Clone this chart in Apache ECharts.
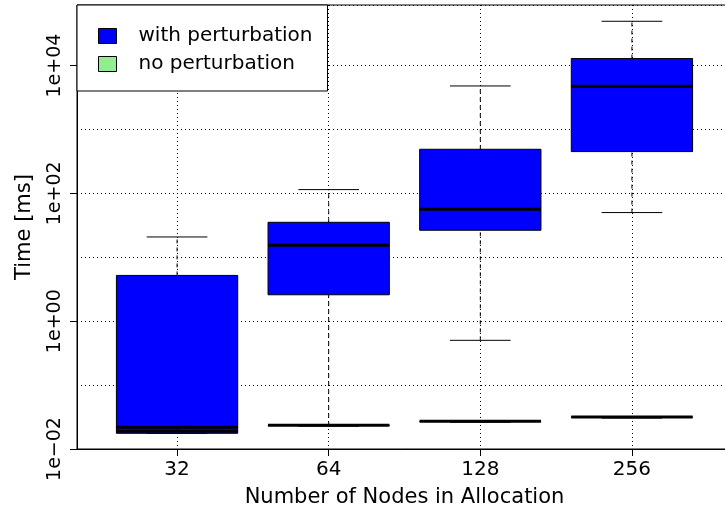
<!DOCTYPE html>
<html><head><meta charset="utf-8">
<script src="https://cdn.jsdelivr.net/npm/echarts@6/dist/echarts.min.js"></script>
<style>html,body{margin:0;padding:0;background:#fff}#chart{width:725px;height:511px}</style>
</head><body><div id="chart"></div>
<script>
const categories = ['32', '64', '128', '256'];
const seriesNames = ['with perturbation', 'no perturbation'];

// "with perturbation" five-number summaries (ms)
const withMin = [0.0176, 0.0232, 0.502, 50.1];
const withQ1  = [0.0176, 2.59, 26.5, 451];
const withMed = [0.0189, 15.4, 56.4, 4745];
const withQ3  = [5.2, 35.3, 490, 12880];
const withMax = [20.8, 114.6, 4797, 49340];

// "no perturbation" five-number summaries (ms)
const noMin = [0.0189, 0.0228, 0.0262, 0.0305];
const noQ1  = [0.0216, 0.0233, 0.0269, 0.0314];
const noMed = [0.0219, 0.0235, 0.0271, 0.0317];
const noQ3  = [0.0221, 0.0237, 0.0273, 0.0319];
const noMax = [0.0224, 0.0240, 0.0276, 0.0322];

const yTickValues = [0.01, 1, 100, 10000];
const yTickLabels = ['1e\u221202', '1e+00', '1e+02', '1e+04'];
const xTickValues = [0, 1, 2, 3];

const FONT = 'DejaVu Sans';
const colors = ['#0000FF', '#90EE90'];

function buildData(mn, q1, md, q3, mx) {
  return categories.map((c, i) => [i, mn[i], q1[i], md[i], q3[i], mx[i]]);
}

function makeRender(fill) {
  return function (params, api) {
    const x = api.value(0);
    const vals = [1, 2, 3, 4, 5].map(d => api.value(d));
    const p = vals.map(v => api.coord([x, v]));
    const cx = p[2][0];
    const half = api.coord([x + 0.4, vals[2]])[0] - cx;
    const st = half / 2;
    const yMin = p[0][1], yQ1 = p[1][1], yMd = p[2][1], yQ3 = p[3][1], yMax = p[4][1];
    return {
      type: 'group',
      children: [
        { type: 'line', shape: { x1: cx, y1: yQ3, x2: cx, y2: yMax }, style: { stroke: '#000', lineWidth: 1, lineDash: [4, 4] } },
        { type: 'line', shape: { x1: cx, y1: yMin, x2: cx, y2: yQ1 }, style: { stroke: '#000', lineWidth: 1, lineDash: [4, 4] } },
        { type: 'line', shape: { x1: cx - st, y1: yMax, x2: cx + st, y2: yMax }, style: { stroke: '#000', lineWidth: 1 } },
        { type: 'line', shape: { x1: cx - st, y1: yMin, x2: cx + st, y2: yMin }, style: { stroke: '#000', lineWidth: 1 } },
        { type: 'rect', shape: { x: cx - half, y: yQ3, width: 2 * half, height: yQ1 - yQ3 }, style: { fill: fill, stroke: '#000', lineWidth: 1 } },
        { type: 'line', shape: { x1: cx - half, y1: yMd, x2: cx + half, y2: yMd }, style: { stroke: '#000', lineWidth: 3 } }
      ]
    };
  };
}

function yLabel(v) {
  for (let i = 0; i < yTickValues.length; i++) {
    if (Math.abs(Math.log10(v) - Math.log10(yTickValues[i])) < 1e-6) return yTickLabels[i];
  }
  return '';
}

const chart = echarts.init(document.getElementById('chart'), null, { renderer: 'canvas' });
chart.setOption({
  animation: false,
  backgroundColor: '#fff',
  grid: { left: 77, right: -7, top: 5, bottom: 62, outerBoundsMode: 'none', containLabel: false, show: true, borderColor: '#000', borderWidth: 1, backgroundColor: 'transparent' },
  legend: {
    orient: 'vertical', left: 77, top: 5,
    data: seriesNames.map(n => ({ name: n, icon: 'rect' })),
    itemWidth: 18, itemHeight: 15, itemGap: 8,
    padding: [21, 15, 17, 21],
    backgroundColor: '#fff', borderColor: '#000', borderWidth: 1, borderRadius: 0,
    textStyle: { fontFamily: FONT, fontSize: 20, color: '#000', padding: [0, 0, 0, 17] },
    itemStyle: { borderColor: '#000', borderWidth: 1 },
    selectedMode: false
  },
  xAxis: {
    type: 'value', min: -0.66, max: 3.66,
    axisLine: { show: true, onZero: false, lineStyle: { color: '#000' } },
    axisTick: { show: true, length: 7, customValues: xTickValues, lineStyle: { color: '#000' } },
    axisLabel: { customValues: xTickValues, formatter: v => (Math.abs(v - Math.round(v)) < 1e-6 && categories[Math.round(v)]) || '', fontFamily: FONT, fontSize: 20, color: '#000', margin: 11 },
    splitLine: { show: true, lineStyle: { color: '#000', type: [1, 3] } },
    name: 'Number of Nodes in Allocation', nameLocation: 'middle', nameGap: 38,
    nameTextStyle: { fontFamily: FONT, fontSize: 21, color: '#000' }
  },
  yAxis: [{
    type: 'log', logBase: 10, min: 0.01, max: 88700,
    axisLine: { show: true, onZero: false, lineStyle: { color: '#000' } },
    axisTick: { show: true, length: 7, customValues: yTickValues, lineStyle: { color: '#000' } },
    axisLabel: { customValues: yTickValues, rotate: 90, formatter: yLabel, fontFamily: FONT, fontSize: 19, color: '#000', margin: 12 },
    splitLine: { show: false },
    name: 'Time [ms]', nameLocation: 'middle', nameGap: 42,
    nameTextStyle: { fontFamily: FONT, fontSize: 21, color: '#000' }
  }, {
    type: 'log', logBase: 10, min: 0.01, max: 88700, position: 'left',
    axisLine: { show: false, onZero: false }, axisTick: { show: false }, axisLabel: { show: false },
    splitLine: { show: true, lineStyle: { color: '#000', type: [1, 3] } }
  }],
  series: [{
    name: seriesNames[0], type: 'custom', renderItem: makeRender(colors[0]),
    itemStyle: { color: colors[0] },
    encode: { x: 0, y: [1, 2, 3, 4, 5] },
    data: buildData(withMin, withQ1, withMed, withQ3, withMax)
  }, {
    name: seriesNames[1], type: 'custom', renderItem: makeRender(colors[1]),
    itemStyle: { color: colors[1] },
    encode: { x: 0, y: [1, 2, 3, 4, 5] },
    data: buildData(noMin, noQ1, noMed, noQ3, noMax)
  }]
});
</script></body></html>
